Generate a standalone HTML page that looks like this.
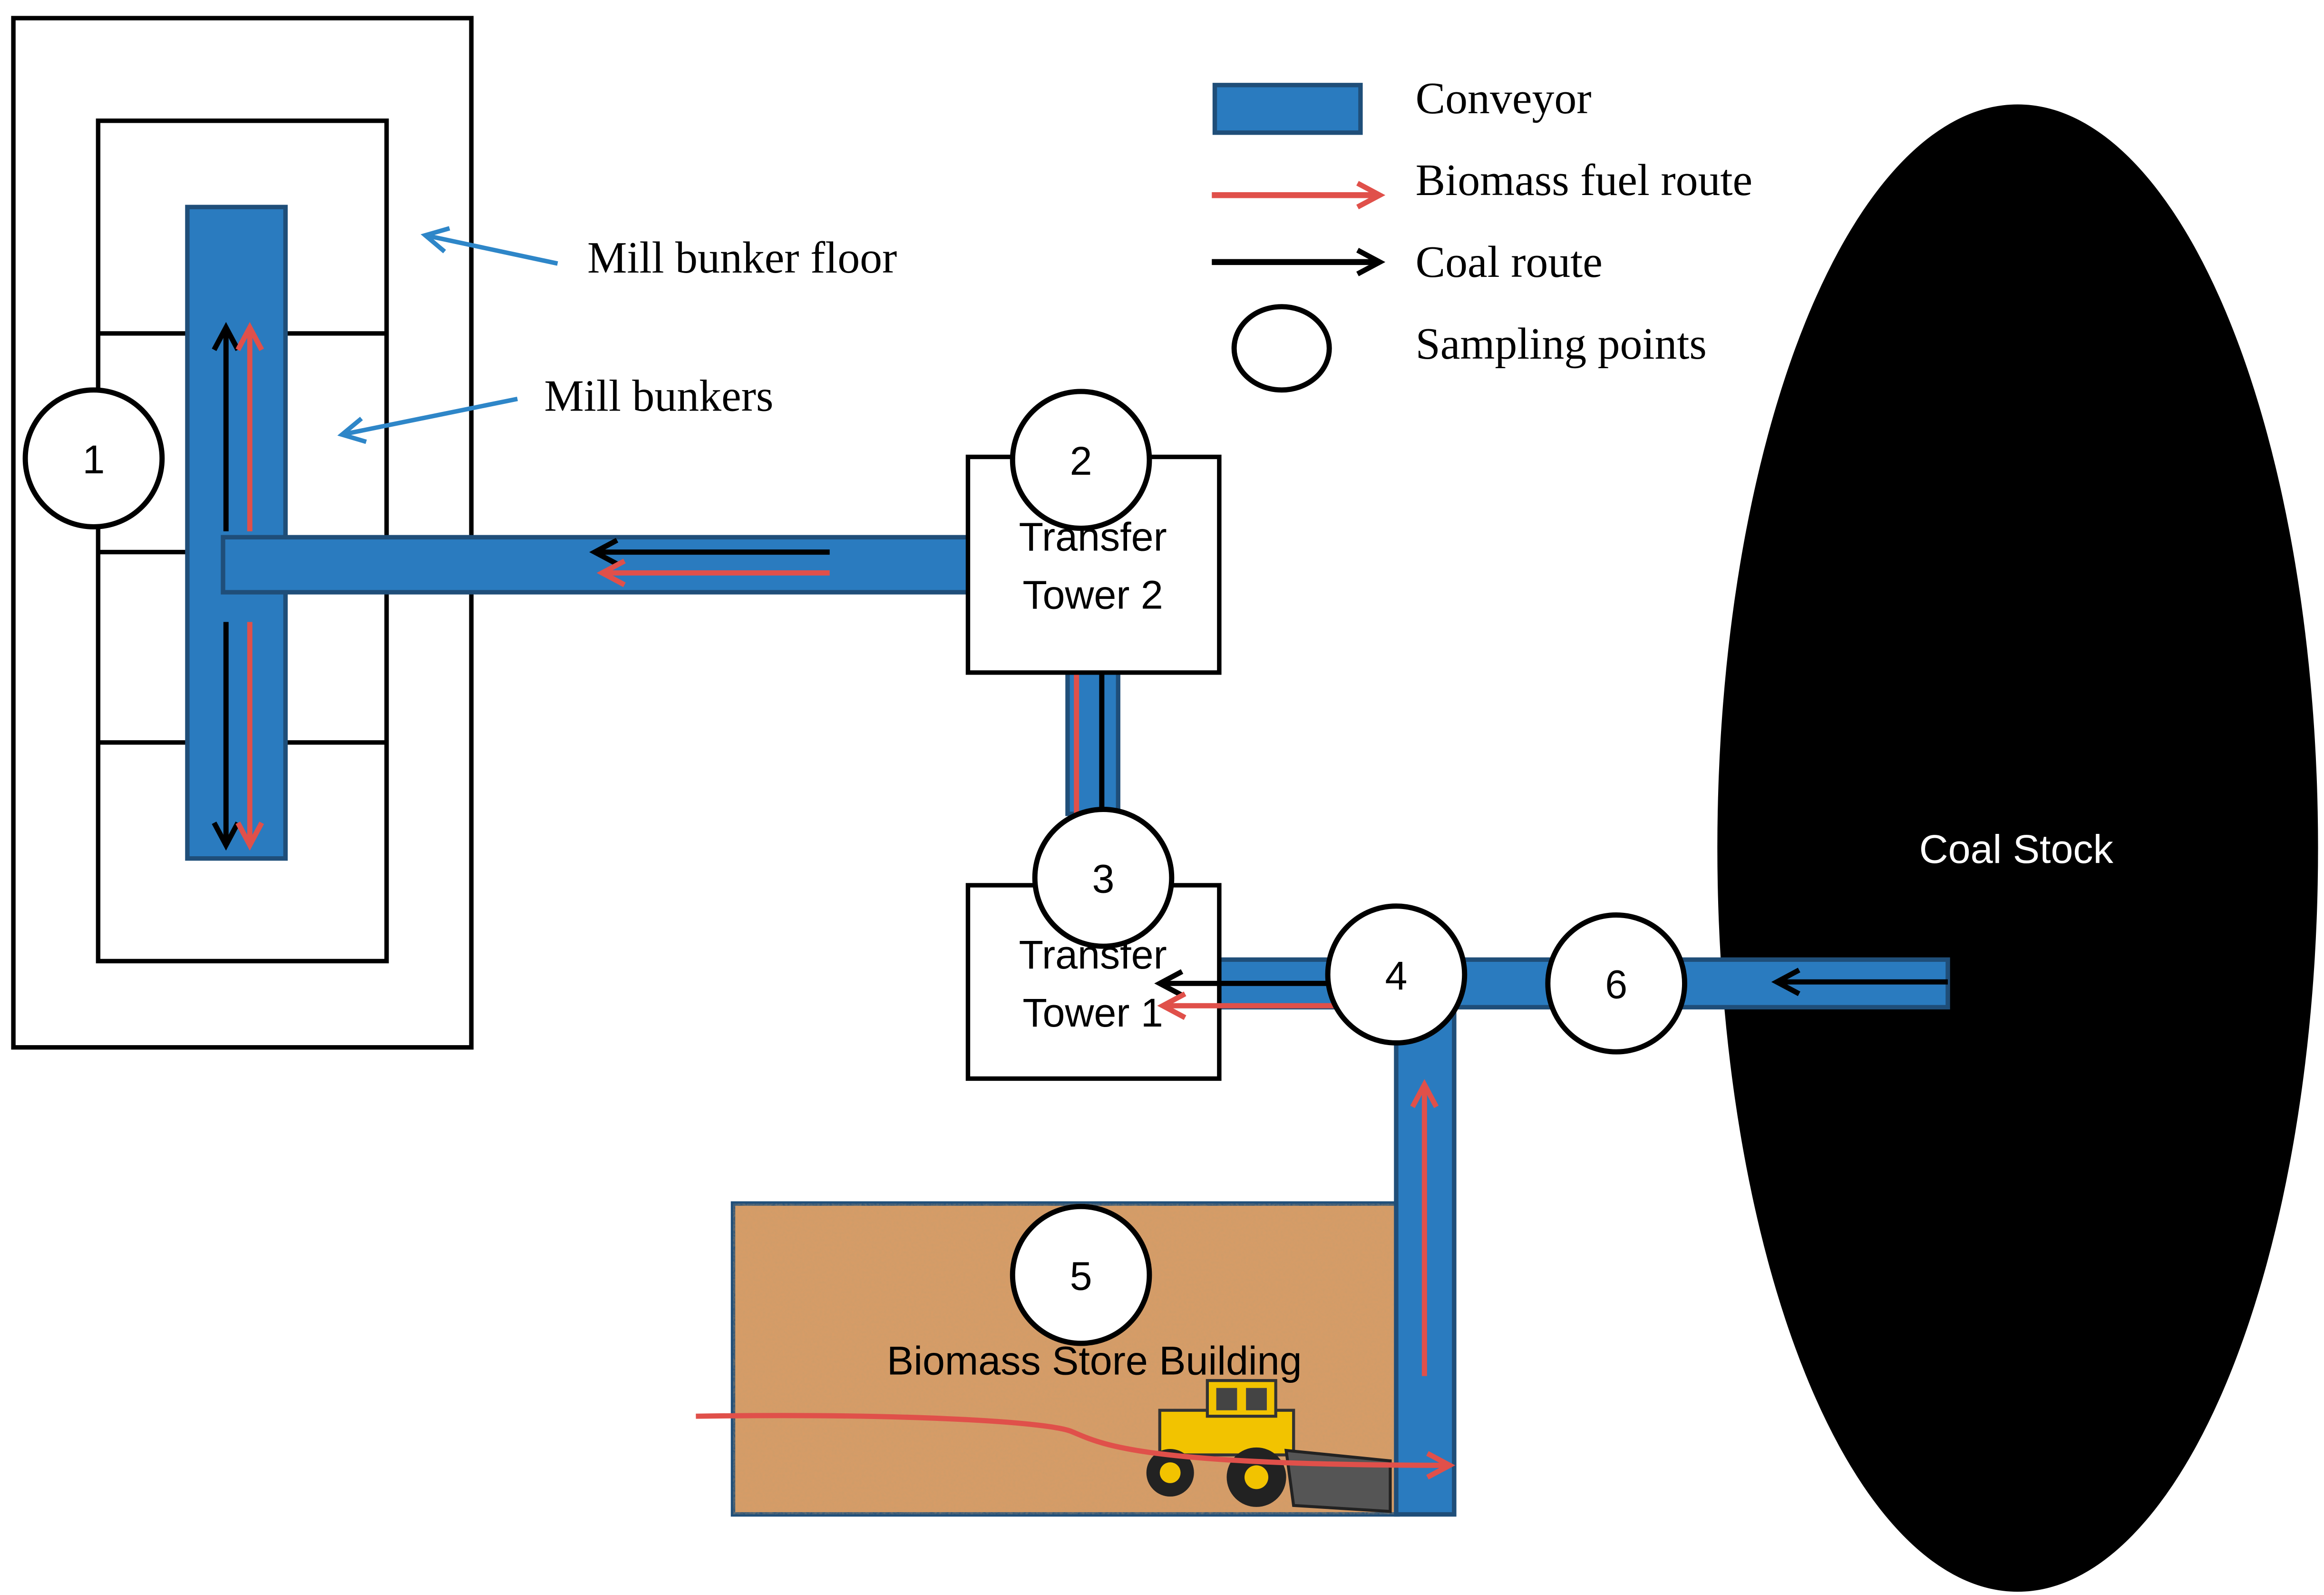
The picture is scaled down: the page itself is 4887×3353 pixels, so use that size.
<!DOCTYPE html>
<html><head><meta charset="utf-8"><style>
html,body{margin:0;padding:0;background:#fff;}
svg{display:block;}
</style></head><body>
<svg width="4887" height="3353" viewBox="0 0 1563 1072" xmlns="http://www.w3.org/2000/svg">
<defs>
<marker id="arL" markerWidth="22" markerHeight="22" refX="18" refY="11" orient="auto" markerUnits="userSpaceOnUse" viewBox="0 0 22 22"><path d="M3,3 L18,11 L3,19" fill="none" stroke="#e0504a" stroke-width="3.5"/></marker>
<marker id="abL" markerWidth="22" markerHeight="22" refX="18" refY="11" orient="auto" markerUnits="userSpaceOnUse" viewBox="0 0 22 22"><path d="M3,3 L18,11 L3,19" fill="none" stroke="#000" stroke-width="3.5"/></marker>
<marker id="abl" markerWidth="22" markerHeight="22" refX="18" refY="11" orient="auto" markerUnits="userSpaceOnUse" viewBox="0 0 22 22"><path d="M3,3 L18,11 L3,19" fill="none" stroke="#2e86c8" stroke-width="3"/></marker>
<filter id="tex"><feTurbulence type="fractalNoise" baseFrequency="0.6" numOctaves="2" seed="3"/><feColorMatrix type="matrix" values="0 0 0 0 0.55  0 0 0 0 0.33  0 0 0 0 0.15  0 0 0 0.5 0"/><feComposite in2="SourceGraphic" operator="in"/></filter>
</defs>
<g fill="none" stroke="#000" stroke-width="3">
<rect x="9" y="12" width="308" height="692"/>
<rect x="66" y="81" width="194" height="565"/>
<line x1="66" y1="224" x2="260" y2="224"/>
<line x1="66" y1="371" x2="260" y2="371"/>
<line x1="66" y1="499" x2="260" y2="499"/>
</g>
<g fill="#2a7bbf" stroke="#1f4e79" stroke-width="3">
<rect x="126" y="139" width="66" height="438"/>
<rect x="150" y="361" width="502" height="37"/>
<rect x="718" y="452" width="34" height="95"/>
</g>
<!-- coal stock -->
<ellipse cx="1357" cy="570" rx="202" ry="500" fill="#000"/>
<rect x="820" y="645" width="490" height="32" fill="#2a7bbf" stroke="#1f4e79" stroke-width="3"/>
<text x="1356" y="580" font-family="Liberation Sans, sans-serif" font-size="27" fill="#fff" text-anchor="middle">Coal Stock</text>
<!-- biomass store -->
<rect x="493" y="809" width="447" height="209" fill="#d99c66" stroke="#1f4e79" stroke-width="3"/>
<rect x="493" y="809" width="447" height="209" fill="#d99c66" filter="url(#tex)"/>
<rect x="939" y="677" width="39" height="341" fill="#2a7bbf" stroke="#1f4e79" stroke-width="3"/>
<rect x="940.5" y="672" width="36" height="8" fill="#2a7bbf"/>
<g stroke-width="3.5" fill="none">
<line x1="152" y1="357" x2="152" y2="220" stroke="#000" marker-end="url(#abL)"/>
<line x1="168" y1="357" x2="168" y2="220" stroke="#e0504a" marker-end="url(#arL)"/>
<line x1="152" y1="418" x2="152" y2="568" stroke="#000" marker-end="url(#abL)"/>
<line x1="168" y1="418" x2="168" y2="568" stroke="#e0504a" marker-end="url(#arL)"/>
<line x1="558" y1="371" x2="400" y2="371" stroke="#000" marker-end="url(#abL)"/>
<line x1="558" y1="385" x2="405" y2="385" stroke="#e0504a" marker-end="url(#arL)"/>
<line x1="724" y1="547" x2="724" y2="433" stroke="#e0504a" marker-end="url(#arL)"/>
<line x1="741" y1="547" x2="741" y2="433" stroke="#000" marker-end="url(#abL)"/>
</g>
<rect x="651" y="307" width="169" height="145" fill="#fff" stroke="#000" stroke-width="3"/>
<rect x="651" y="595" width="169" height="130" fill="#fff" stroke="#000" stroke-width="3"/>
<g stroke-width="3.5" fill="none">
<line x1="940" y1="661" x2="780" y2="661" stroke="#000" marker-end="url(#abL)"/>
<line x1="940" y1="676" x2="782" y2="676" stroke="#e0504a" marker-end="url(#arL)"/>
<line x1="1310" y1="660" x2="1195" y2="660" stroke="#000" marker-end="url(#abL)"/>
<line x1="958" y1="925" x2="958" y2="729" stroke="#e0504a" marker-end="url(#arL)"/>
</g>
<g font-family="Liberation Sans, sans-serif" font-size="27" fill="#000" text-anchor="middle">
<text x="735" y="370">Transfer</text>
<text x="735" y="409">Tower 2</text>
<text x="735" y="651">Transfer</text>
<text x="735" y="690">Tower 1</text>
<text x="736" y="924">Biomass Store Building</text>
</g>
<g>
<rect x="780" y="948" width="90" height="30" fill="#f2c300" stroke="#333" stroke-width="2"/>
<rect x="812" y="928" width="46" height="24" fill="#f2c300" stroke="#333" stroke-width="2"/>
<rect x="818" y="933" width="14" height="15" fill="#444"/><rect x="838" y="933" width="14" height="15" fill="#444"/>
<circle cx="787" cy="990" r="16" fill="#222"/><circle cx="787" cy="990" r="7" fill="#f2c300"/>
<circle cx="845" cy="993" r="20" fill="#222"/><circle cx="845" cy="993" r="8" fill="#f2c300"/>
<path d="M865,975 L935,982 L935,1016 L870,1012 Z" fill="#555" stroke="#222" stroke-width="2"/>
</g>
<path d="M468,952 C600,950 700,955 720,962 C740,970 760,985 975,985" fill="none" stroke="#e0504a" stroke-width="3.5" marker-end="url(#arL)"/>
<g fill="#fff" stroke="#000" stroke-width="3.5">
<circle cx="63" cy="308" r="46"/>
<circle cx="727" cy="309" r="46"/>
<circle cx="742" cy="590" r="46"/>
<circle cx="939" cy="655" r="46"/>
<circle cx="1087" cy="661" r="46"/>
<circle cx="727" cy="857" r="46"/>
</g>
<g font-family="Liberation Sans, sans-serif" font-size="27" text-anchor="middle" fill="#000">
<text x="63" y="318">1</text>
<text x="727" y="319">2</text>
<text x="742" y="600">3</text>
<text x="939" y="665">4</text>
<text x="1087" y="671">6</text>
<text x="727" y="867">5</text>
</g>
<g font-family="Liberation Serif, serif" font-size="30" fill="#000">
<text x="395" y="183">Mill bunker floor</text>
<text x="366" y="276">Mill bunkers</text>
<text x="952" y="76">Conveyor</text>
<text x="952" y="131">Biomass fuel route</text>
<text x="952" y="186">Coal route</text>
<text x="952" y="241">Sampling points</text>
</g>
<line x1="375" y1="177" x2="286" y2="158" stroke="#2e86c8" stroke-width="3" marker-end="url(#abl)"/>
<line x1="348" y1="268" x2="230" y2="292" stroke="#2e86c8" stroke-width="3" marker-end="url(#abl)"/>
<rect x="817" y="57" width="98" height="32" fill="#2a7bbf" stroke="#1f4e79" stroke-width="3"/>
<line x1="815" y1="131" x2="928" y2="131" stroke="#e0504a" stroke-width="4" marker-end="url(#arL)"/>
<line x1="815" y1="176" x2="928" y2="176" stroke="#000" stroke-width="4" marker-end="url(#abL)"/>
<ellipse cx="862" cy="234" rx="32" ry="28" fill="#fff" stroke="#000" stroke-width="3.5"/>
</svg>
</body></html>
